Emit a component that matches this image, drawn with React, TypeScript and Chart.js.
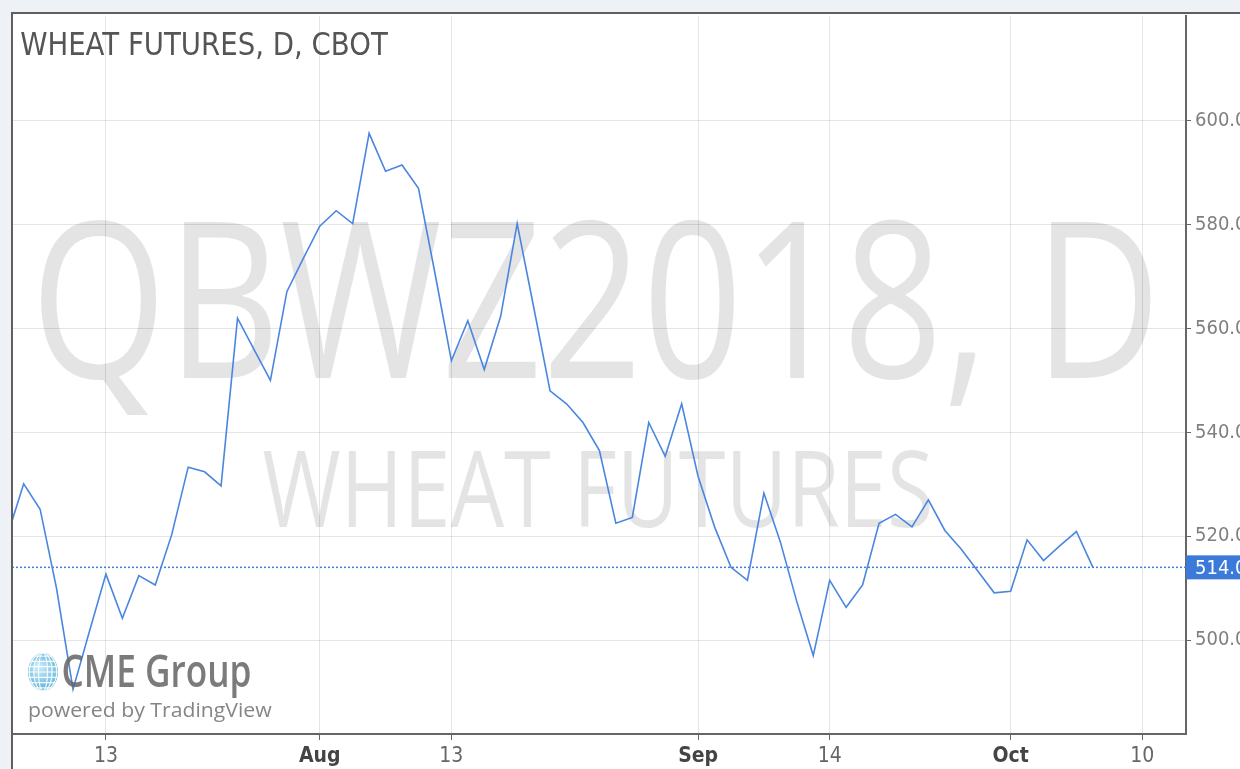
import React, { useEffect, useRef } from 'react';
import { Chart, registerables } from 'chart.js';

Chart.register(...registerables);

// ---- data (daily closes, trading-day slots; slot 0 = Jul 13) ----
const firstSlot = -6;
const prices = [
  520.0, 530.1, 525.2, 509.9, 490.5, 501.7,
  512.7, 504.2, 512.4, 510.6, 520.3, 533.3, 532.4, 529.7, 562.0, 556.0, 550.0,
  567.1, 573.5, 579.7, 582.7, 580.2, 597.6, 590.3, 591.5, 587.0, 570.7, 553.8,
  561.5, 552.1, 562.4, 580.2, 564.2, 548.0, 545.5, 541.9, 536.5, 522.5, 523.6,
  541.9, 535.4, 545.5, 531.5, 521.8, 514.0, 511.5, 528.3, 518.9, 507.4, 497.0,
  511.5, 506.3, 510.6, 522.5, 524.2, 521.8, 527.0, 521.1, 517.5, 513.3, 509.1,
  509.4, 519.3, 515.3, 518.2, 520.9, 514.0,
];
const xTickSlots = [0, 13, 21, 36, 44, 55, 63];
const xTickLabels = ['13', 'Aug', '13', 'Sep', '14', 'Oct', '10'];
const monthLabels = ['Aug', 'Sep', 'Oct'];
const yTicks = [500, 520, 540, 560, 580, 600];
const titleText = 'WHEAT FUTURES, D, CBOT';
const watermarkMain = 'QBWZ2018, D';
const watermarkSub = 'WHEAT FUTURES';
const logoText = 'CME Group';
const poweredText = 'powered by TradingView';
const lastPrice = prices[prices.length - 1];

const tickFamily = '"Liberation Sans Narrow", "DejaVu Sans Condensed", "Liberation Sans", sans-serif';

function fitText(
  ctx: CanvasRenderingContext2D,
  text: string,
  left: number,
  right: number,
  baseline: number,
  capH: number,
  color: string,
  family: string,
  capRatio = 0.714,
  weight = 'normal'
) {
  const size = capH / capRatio;
  ctx.save();
  ctx.font = `${weight} ${size}px ${family}`;
  ctx.textAlign = 'left';
  ctx.textBaseline = 'alphabetic';
  const m = ctx.measureText(text);
  const w = m.actualBoundingBoxLeft + m.actualBoundingBoxRight;
  const sx = (right - left) / w;
  ctx.translate(left, baseline);
  ctx.scale(sx, 1);
  ctx.fillStyle = color;
  ctx.fillText(text, m.actualBoundingBoxLeft, 0);
  ctx.restore();
}

function drawGlobe(ctx: CanvasRenderingContext2D, cx: number, cy: number, rx: number, ry: number) {
  ctx.save();
  ctx.beginPath();
  ctx.ellipse(cx, cy, rx, ry, 0, 0, Math.PI * 2);
  const g = ctx.createRadialGradient(cx - rx * 0.3, cy - ry * 0.3, 2, cx, cy, ry);
  g.addColorStop(0, '#bfe6f6');
  g.addColorStop(1, '#3ea4d4');
  ctx.fillStyle = g;
  ctx.globalAlpha = 0.85;
  ctx.fill();
  ctx.clip();
  ctx.globalAlpha = 0.9;
  ctx.strokeStyle = '#ffffff';
  ctx.lineWidth = 1.2;
  for (let k = -3; k <= 3; k++) {
    const y = cy + (k * ry) / 3.6;
    ctx.beginPath();
    ctx.moveTo(cx - rx, y);
    ctx.lineTo(cx + rx, y);
    ctx.stroke();
  }
  for (let k = 1; k <= 3; k++) {
    ctx.beginPath();
    ctx.ellipse(cx, cy, (rx * k) / 3.3, ry, 0, 0, Math.PI * 2);
    ctx.stroke();
  }
  ctx.restore();
}

const decorPlugin = {
  id: 'decor',
  beforeDraw(chart: any) {
    const ctx: CanvasRenderingContext2D = chart.ctx;
    const { width, height } = chart;
    ctx.save();
    ctx.fillStyle = '#eef2f6';
    ctx.fillRect(0, 0, width, height);
    ctx.fillStyle = '#ffffff';
    ctx.fillRect(12, 12, width - 12, height - 12);
    const wm = 'rgba(0,0,0,0.105)';
    fitText(ctx, watermarkMain, 41, 1151, 378, 156, wm, '"Open Sans", "Noto Sans", sans-serif');
    fitText(ctx, watermarkSub, 263, 930, 527, 76, wm, '"Open Sans", "Noto Sans", sans-serif');
    ctx.restore();
  },
  beforeDatasetsDraw(chart: any) {
    const ctx: CanvasRenderingContext2D = chart.ctx;
    const { left, right } = chart.chartArea;
    const y = chart.scales.y.getPixelForValue(lastPrice);
    ctx.save();
    ctx.strokeStyle = '#3f7fe0';
    ctx.lineWidth = 1.5;
    ctx.setLineDash([2, 2]);
    ctx.beginPath();
    ctx.moveTo(left, y);
    ctx.lineTo(right, y);
    ctx.stroke();
    ctx.restore();
  },
  afterDatasetsDraw(chart: any) {
    const ctx: CanvasRenderingContext2D = chart.ctx;
    ctx.save();
    drawGlobe(ctx, 43, 672, 15, 19);
    fitText(ctx, logoText, 63, 250, 687, 32, 'rgba(100,100,100,0.85)', '"Open Sans", "Noto Sans", sans-serif', 0.714, '600');
    fitText(ctx, poweredText, 29, 272, 717, 14.5, 'rgba(120,120,120,0.9)', '"Open Sans", "Noto Sans", sans-serif');
    ctx.restore();
  },
  afterDraw(chart: any) {
    const ctx: CanvasRenderingContext2D = chart.ctx;
    const { width, height } = chart;
    const area = chart.chartArea;
    ctx.save();
    // frame
    ctx.strokeStyle = '#5f5f5f';
    ctx.lineWidth = 2;
    ctx.beginPath();
    ctx.moveTo(12, height);
    ctx.lineTo(12, 13);
    ctx.lineTo(width, 13);
    ctx.stroke();
    // title
    fitText(ctx, titleText, 21, 388, 55, 23.5, '#555555', '"DejaVu Sans", sans-serif', 0.729);
    // last price label
    const y = chart.scales.y.getPixelForValue(lastPrice);
    ctx.fillStyle = '#3b7ad9';
    ctx.fillRect(area.right, y - 12, width - area.right, 24);
    ctx.fillStyle = '#ffffff';
    ctx.font = `20px ${tickFamily}`;
    ctx.textBaseline = 'middle';
    ctx.textAlign = 'left';
    ctx.fillText(lastPrice.toFixed(1), area.right + 9, y + 1);
    ctx.restore();
  },
};

export default function App() {
  const ref = useRef<HTMLCanvasElement>(null);
  useEffect(() => {
    const points = prices.map((p, i) => ({ x: firstSlot + i, y: p }));
    const chart = new Chart(ref.current as HTMLCanvasElement, {
      type: 'line',
      data: {
        datasets: [
          {
            data: points,
            borderColor: '#4a86e0',
            borderWidth: 1.6,
            pointRadius: 0,
            tension: 0,
            fill: false,
          },
        ],
      },
      options: {
        animation: false,
        responsive: false,
        layout: { padding: { left: 12, top: 12, right: 0, bottom: 0 } },
        plugins: { legend: { display: false }, tooltip: { enabled: false }, title: { display: false } },
        scales: {
          x: {
            type: 'linear',
            position: 'bottom',
            min: -5.71,
            max: 65.66,
            afterBuildTicks: (s: any) => {
              s.ticks = xTickSlots.map((v) => ({ value: v }));
            },
            afterFit: (s: any) => {
              s.height = 35;
            },
            grid: { color: 'rgba(0,0,0,0.1)', lineWidth: 1, tickLength: 6, tickColor: '#666666' },
            border: { display: true, color: '#666666', width: 2 },
            ticks: {
              autoSkip: false,
              maxRotation: 0,
              padding: 4,
              color: (c: any) => (monthLabels.includes(xTickLabels[c.index]) ? '#444444' : '#666666'),
              font: (c: any) => ({
                family: tickFamily,
                size: 21,
                weight: monthLabels.includes(xTickLabels[c.index]) ? 'bold' : 'normal',
              }),
              callback: (v: any) => {
                const i = xTickSlots.indexOf(Number(v));
                return i >= 0 ? xTickLabels[i] : '';
              },
            },
          },
          y: {
            type: 'linear',
            position: 'right',
            min: 481.9,
            max: 620.2,
            afterBuildTicks: (s: any) => {
              s.ticks = yTicks.map((v) => ({ value: v }));
            },
            afterFit: (s: any) => {
              s.width = 54;
            },
            grid: { color: 'rgba(0,0,0,0.1)', lineWidth: 1, tickLength: 5, tickColor: '#666666' },
            border: { display: true, color: '#666666', width: 2 },
            ticks: {
              padding: 4,
              color: '#808080',
              font: { family: tickFamily, size: 20 },
              callback: (v: any) => Number(v).toFixed(1),
            },
          },
        },
      },
      plugins: [decorPlugin],
    } as any);
    return () => chart.destroy();
  }, []);
  return (
    <div style={{ position: 'absolute', left: 0, top: 0, width: 1240, height: 769, overflow: 'hidden' }}>
      <canvas ref={ref} width={1240} height={769} style={{ display: 'block', width: 1240, height: 769 }} />
    </div>
  );
}
